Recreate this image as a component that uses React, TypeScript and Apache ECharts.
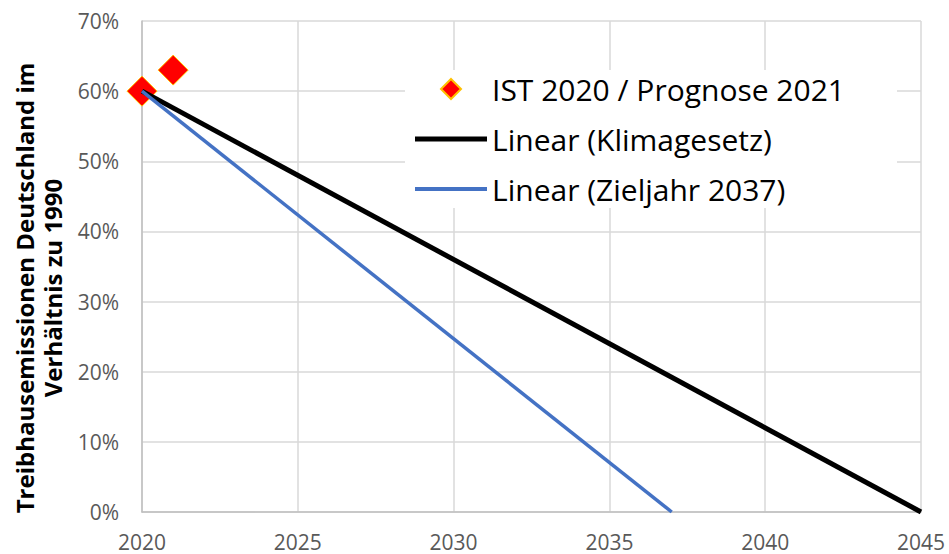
import React, { useEffect, useRef } from "react";
import * as echarts from "echarts";

const FONT = "'Open Sans', 'Noto Sans', sans-serif";

const seriesNames = [
  "IST 2020 / Prognose 2021",
  "Linear (Klimagesetz)",
  "Linear (Zieljahr 2037)",
];
const istYears = [2020, 2021];
const istValues = [60, 63];
const klimaYears = [2020, 2045];
const klimaValues = [60, 0];
const zielYears = [2020, 2037];
const zielValues = [60, 0];
const yTitle = ["Treibhausemissionen Deutschland im", "Verhältnis zu 1990"];

const pairs = (xs: number[], ys: number[]) => xs.map((x, i) => [x, ys[i]]);

export default function App() {
  const ref = useRef<HTMLDivElement>(null);
  useEffect(() => {
    if (!ref.current) return;
    const chart = echarts.init(ref.current, undefined, { renderer: "svg" });
    chart.setOption({
      animation: false,
      backgroundColor: "#ffffff",
      grid: { left: 142, right: 28, top: 21, bottom: 42 },
      xAxis: {
        type: "value",
        min: 2020,
        max: 2045,
        interval: 5,
        axisLine: { show: true, lineStyle: { color: "#bfbfbf", width: 1.5 } },
        axisTick: { show: false },
        splitLine: { show: true, lineStyle: { color: "#d9d9d9", width: 1.5 } },
        axisLabel: {
          color: "#595959",
          fontFamily: FONT,
          fontSize: 21,
          lineHeight: 21,
          margin: 19,
          showMaxLabel: true,
          showMinLabel: true,
          formatter: (v: number) => String(v),
        },
      },
      yAxis: {
        type: "value",
        min: 0,
        max: 70,
        interval: 10,
        axisLine: { show: true, lineStyle: { color: "#bfbfbf", width: 1.5 } },
        axisTick: { show: false },
        splitLine: { show: true, lineStyle: { color: "#d9d9d9", width: 1.5 } },
        axisLabel: {
          color: "#595959",
          fontFamily: FONT,
          fontSize: 21,
          margin: 23,
          formatter: "{value}%",
        },
      },
      legend: {
        show: true,
        orient: "vertical",
        left: 405,
        top: 70,
        padding: [4, 52, 4, 10],
        backgroundColor: "#ffffff",
        itemWidth: 72,
        itemHeight: 20,
        itemGap: 20,
        symbolKeepAspect: true,
        textStyle: {
          color: "#000000",
          fontFamily: FONT,
          fontSize: 30,
          lineHeight: 30,
        },
        data: [
          { name: seriesNames[0], icon: "path://M10,0L20,10L10,20L0,10Z" },
          { name: seriesNames[1], icon: "path://M0,0L72,0L72,5L0,5Z" },
          { name: seriesNames[2], icon: "path://M0,0L72,0L72,4L0,4Z" },
        ],
      },
      graphic: [
        {
          type: "text",
          x: 38,
          y: 288,
          rotation: Math.PI / 2,
          style: {
            text: yTitle.join("\n"),
            font: `bold 24px ${FONT}`,
            fill: "#000000",
            textAlign: "center",
            textVerticalAlign: "middle",
            lineHeight: 28,
          },
        },
      ],
      series: [
        {
          name: seriesNames[0],
          type: "scatter",
          symbol: "diamond",
          symbolSize: 30,
          itemStyle: { color: "#ff0000", borderColor: "#ffc000", borderWidth: 1, opacity: 1 },
          data: pairs(istYears, istValues),
          z: 2,
        },
        {
          name: seriesNames[1],
          type: "line",
          symbol: "none",
          lineStyle: { color: "#000000", width: 5 },
          itemStyle: { color: "#000000" },
          data: pairs(klimaYears, klimaValues),
          z: 3,
        },
        {
          name: seriesNames[2],
          type: "line",
          symbol: "none",
          lineStyle: { color: "#4472c4", width: 3.5 },
          itemStyle: { color: "#4472c4" },
          data: pairs(zielYears, zielValues),
          z: 3,
        },
      ],
    });
    return () => chart.dispose();
  }, []);
  return <div ref={ref} style={{ width: 949, height: 554, position: "absolute", left: 0, top: 0 }} />;
}
